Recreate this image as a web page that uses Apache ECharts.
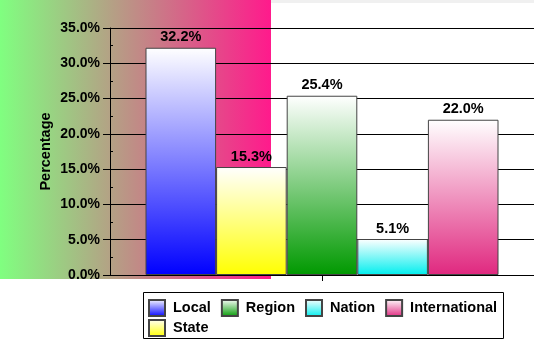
<!DOCTYPE html>
<html>
<head>
<meta charset="utf-8">
<script src="https://cdn.jsdelivr.net/npm/echarts@6/dist/echarts.min.js"></script>
<style>html,body{margin:0;padding:0;background:#fff}#c{width:534px;height:343px}</style>
</head>
<body>
<div id="c"></div>
<script>
const categories = ['Local', 'State', 'Region', 'Nation', 'International'];
const values = [32.2, 15.3, 25.4, 5.1, 22.0];
const barColors = ['#0000ff', '#ffff00', '#009900', '#00eeee', '#e0287f'];
const yTicks = [0, 5, 10, 15, 20, 25, 30, 35];
const legendRow1 = ['Local', 'Region', 'Nation', 'International'];
const legendRow2 = ['State'];

const FONT = 'Liberation Sans, Arial, sans-serif';
const chart = echarts.init(document.getElementById('c'), null, {renderer: 'canvas'});

const series = categories.map((name, i) => ({
  name: name,
  type: 'bar',
  yAxisIndex: 0,
  data: [values[i]],
  barWidth: 70.6,
  barGap: '0%',
  itemStyle: {
    color: new echarts.graphic.LinearGradient(0, 0, 0, 1, [
      {offset: 0, color: '#ffffff'},
      {offset: 1, color: barColors[i]}
    ]),
    borderColor: '#444',
    borderWidth: 1
  },
  label: {
    show: true, position: 'top', distance: 3,
    formatter: p => p.value.toFixed(1) + '%',
    color: '#000', fontFamily: FONT, fontWeight: 'bold', fontSize: 14.5
  },
  z: 3
}));

const legendBase = {
  orient: 'horizontal',
  icon: 'rect',
  itemWidth: 16, itemHeight: 16, itemGap: 10,
  textStyle: {color: '#000', fontFamily: FONT, fontWeight: 'bold', fontSize: 14.5, padding: [0, 0, 0, 3]},
  padding: 0,
  selectedMode: false
};

chart.setOption({
  animation: false,
  backgroundColor: '#fff',
  graphic: [
    {type: 'rect', z: -10, shape: {x: 0, y: 0, width: 271, height: 279},
     style: {fill: new echarts.graphic.LinearGradient(0, 0, 1, 0, [
       {offset: 0, color: '#80ff80'}, {offset: 1, color: '#ff1a8c'}])}},
    {type: 'rect', z: -10, shape: {x: 271, y: 0, width: 263, height: 3}, style: {fill: '#f0f0f0'}},
    {type: 'rect', z: 1, shape: {x: 143.5, y: 292.5, width: 360, height: 46},
     style: {fill: '#fff', stroke: '#000', lineWidth: 1}}
  ],
  grid: {left: 110, right: -4, top: 28, bottom: 68, containLabel: false},
  legend: [
    Object.assign({}, legendBase, {data: legendRow1, left: 148, top: 299}),
    Object.assign({}, legendBase, {data: legendRow2, left: 148, top: 319})
  ],
  xAxis: {
    type: 'category',
    data: [''],
    axisLine: {show: true, lineStyle: {color: '#000', width: 1}},
    axisTick: {show: true, alignWithLabel: true, length: 6, lineStyle: {color: '#000'}},
    axisLabel: {show: false},
    splitLine: {show: false}
  },
  yAxis: [
    {
      type: 'value', min: yTicks[0], max: yTicks[yTicks.length - 1], interval: 5,
      name: 'Percentage', nameLocation: 'middle', nameGap: 57, nameMoveOverlap: false,
      nameTextStyle: {color: '#000', fontFamily: FONT, fontWeight: 'bold', fontSize: 14.5},
      axisLine: {show: true, lineStyle: {color: '#000', width: 1}},
      axisTick: {show: true, length: 7, lineStyle: {color: '#000'}},
      axisLabel: {margin: 10, formatter: v => v.toFixed(1) + '%',
        color: '#000', fontFamily: FONT, fontWeight: 'bold', fontSize: 14},
      splitLine: {show: true, lineStyle: {color: '#000', width: 1}}
    },
    {
      type: 'value', position: 'left', min: 0, max: 35, interval: 2.5,
      axisLine: {show: false},
      axisTick: {show: true, inside: true, length: 3, lineStyle: {color: '#000'}},
      axisLabel: {show: false},
      splitLine: {show: false}
    }
  ],
  series: series
});
</script>
</body>
</html>
